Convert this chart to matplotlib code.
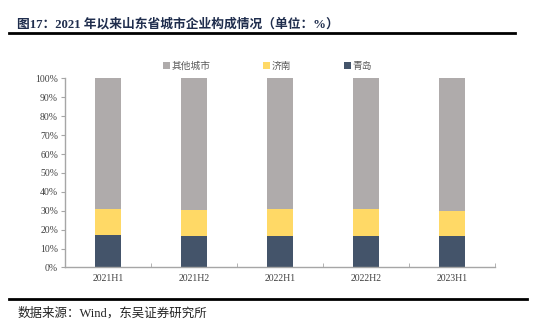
import numpy as np
import matplotlib
matplotlib.use('Agg')
from matplotlib import pyplot as plt
from matplotlib.lines import Line2D

plt.rcParams['font.family'] = ['Liberation Serif', 'Noto Sans CJK SC']

periods = ['2021H1', '2021H2', '2022H1', '2022H2', '2023H1']
qingdao = [17.3, 16.9, 16.9, 16.9, 16.9]
jinan = [13.4, 13.7, 13.8, 13.9, 13.2]
others = [100 - q - j for q, j in zip(qingdao, jinan)]

c_qd = '#44546A'
c_jn = '#FFD966'
c_ot = '#AFABAB'

fig = plt.figure(figsize=(5.33, 3.31), dpi=100)
ax = fig.add_axes([0.122, 0.192, 0.807, 0.571])

x = np.arange(len(periods))
w = 0.31
ax.bar(x, qingdao, w, color=c_qd, label='青岛')
ax.bar(x, jinan, w, bottom=qingdao, color=c_jn, label='济南')
ax.bar(x, others, w, bottom=np.array(qingdao) + np.array(jinan), color=c_ot, label='其他城市')

ax.set_xlim(-0.5, len(periods) - 0.5)
ax.set_ylim(0, 100)
ax.set_yticks(range(0, 101, 10))
ax.set_yticklabels([f'{v}%' for v in range(0, 101, 10)])
ax.set_xticks(x)
ax.set_xticklabels(periods)
ax.set_xticks(np.arange(-0.5, len(periods), 1), minor=True)

for s in ['top', 'right']:
    ax.spines[s].set_visible(False)
for s in ['left', 'bottom']:
    ax.spines[s].set_color('#A6A6A6')
    ax.spines[s].set_linewidth(1.0)
ax.tick_params(axis='y', labelsize=7, colors='#404040', length=3, color='#A6A6A6', pad=2)
ax.tick_params(axis='x', which='major', labelsize=7, colors='#404040', length=0, pad=5)
ax.tick_params(axis='x', which='minor', length=3, color='#A6A6A6', direction='in')

handles, labels = ax.get_legend_handles_labels()
leg = ax.legend(handles[::-1], labels[::-1], loc='center left',
                bbox_to_anchor=(163 / 533, 1 - 66 / 331), bbox_transform=fig.transFigure,
                ncol=3, frameon=False, handlelength=0.7, handleheight=0.7,
                handletextpad=0.2, columnspacing=5.4, borderpad=0, borderaxespad=0,
                prop={'family': ['Noto Sans CJK SC'], 'size': 7})
for t in leg.get_texts():
    t.set_color('#595959')

fig.text(0.032, 0.928, '图17：2021 年以来山东省城市企业构成情况（单位：%）', fontsize=9.2,
         fontweight='bold', color='#1F2D4D', va='center', ha='left')
fig.add_artist(Line2D([0.017, 0.966], [0.9, 0.9], color='black', lw=2))
fig.add_artist(Line2D([0.017, 0.988], [0.097, 0.097], color='black', lw=2))
fig.text(0.032, 0.054, '数据来源：Wind，东吴证券研究所', fontsize=9, color='#222222',
         va='center', ha='left')

fig.savefig('out.png', dpi=100)
